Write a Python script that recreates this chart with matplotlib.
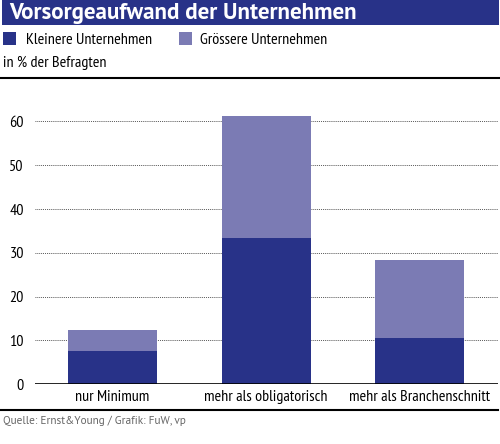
import matplotlib
matplotlib.use("Agg")
import matplotlib.pyplot as plt
from matplotlib.patches import Rectangle
from matplotlib.lines import Line2D

categories = ["nur Minimum", "mehr als obligatorisch", "mehr als Branchenschnitt"]
kleinere = [7.5, 33.5, 10.5]
groessere = [5.0, 27.8, 17.9]
series_names = ["Kleinere Unternehmen", "Grössere Unternehmen"]
yticks = [0, 10, 20, 30, 40, 50, 60]

title = "Vorsorgeaufwand der Unternehmen"
unit = "in % der Befragten"
source = "Quelle: Ernst&Young / Grafik: FuW, vp"

dark = "#283288"
light = "#7b7bb4"

NARROW = ["PT Sans Narrow", "DejaVu Sans"]
WIDE = ["PT Sans", "Open Sans", "DejaVu Sans"]
plt.rcParams["font.family"] = NARROW

W, H = 500, 444
fig = plt.figure(figsize=(W / 100, H / 100), dpi=100)

def fx(px):
    return px / W

def fy(py):
    return 1 - py / H

# Title bar
fig.patches.append(Rectangle((fx(2), fy(25)), fx(497), 25 / H, transform=fig.transFigure,
                             facecolor=dark, edgecolor="none"))
fig.text(fx(9), fy(13.5), title, color="white", fontsize=16.6, fontweight="bold",
         family=WIDE, va="center", ha="left")

# Legend
for sx, tx, col, name in [(3, 26, dark, series_names[0]), (179, 200, light, series_names[1])]:
    fig.patches.append(Rectangle((fx(sx), fy(45)), fx(13), 13 / H, transform=fig.transFigure,
                                 facecolor=col, edgecolor="none"))
    fig.text(fx(tx), fy(39.5), name, fontsize=11.5, va="center", ha="left", color="black")

fig.text(fx(3), fy(63), unit, fontsize=11.5, va="center", ha="left", color="black")

# Separator lines
fig.add_artist(Line2D([0, 1], [fy(78), fy(78)], color="black", lw=1.5, transform=fig.transFigure))
fig.add_artist(Line2D([fx(0), fx(498)], [fy(410), fy(410)], color="black", lw=1.5, transform=fig.transFigure))

# Axes
y0_px = 384.3
px_per_unit = 4.38
ymax = 65
ax = fig.add_axes([fx(35), fy(y0_px), fx(463), ymax * px_per_unit / H])
x = range(len(categories))
ax.bar(x, kleinere, width=0.58, color=dark, zorder=3)
ax.bar(x, groessere, bottom=kleinere, width=0.58, color=light, zorder=3)
ax.set_xlim(-0.505, 2.511)
ax.set_ylim(0, ymax)
for t in yticks[1:]:
    ax.axhline(t, color="#222222", lw=0.6, ls=(0, (1, 1.3)), zorder=1)
ax.axhline(0, color="black", lw=1.2, zorder=4)
for s in ax.spines.values():
    s.set_visible(False)
ax.set_yticks(yticks)
ax.set_yticklabels([str(t) for t in yticks])
ax.set_xticks(list(x))
ax.set_xticklabels(categories)
ax.tick_params(axis="both", length=0, labelsize=11.5)
ax.tick_params(axis="y", pad=8)
ax.tick_params(axis="x", pad=4)

fig.text(fx(3), fy(421), source, fontsize=8.1, va="center", ha="left", color="#666666",
         family=WIDE)

fig.savefig("out.png", dpi=100)
